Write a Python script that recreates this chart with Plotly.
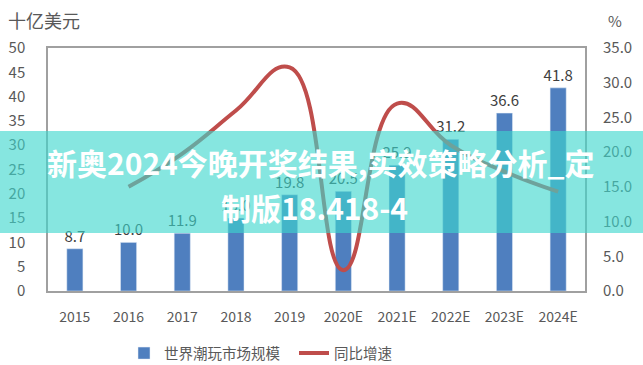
import plotly.graph_objects as go

years = ["2015", "2016", "2017", "2018", "2019", "2020E", "2021E", "2022E", "2023E", "2024E"]
market_size = [8.7, 10.0, 11.9, 15.0, 19.8, 20.5, 25.9, 31.2, 36.6, 41.8]
growth_years = ["2016", "2017", "2018", "2019", "2020E", "2021E", "2022E", "2023E", "2024E"]
growth = [15.0, 19.8, 26.0, 32.2, 3.0, 27.0, 21.0, 17.2, 14.3]

FONT = "Noto Sans CJK SC, Noto Sans, sans-serif"
GRAY = "#595959"

fig = go.Figure()
fig.add_trace(go.Bar(
    x=years, y=market_size, name="世界潮玩市场规模",
    marker=dict(color="#4F7FBF"), width=0.3,
    text=[f"{v:.1f}" for v in market_size], textposition="outside",
    constraintext="none",
    textfont=dict(size=15, color="#404040", family=FONT), cliponaxis=False,
))
fig.add_trace(go.Scatter(
    x=growth_years, y=growth, name="同比增速", yaxis="y2", mode="lines",
    line=dict(color="#BF4D4B", width=4, shape="spline", smoothing=1.3),
))

fig.update_layout(
    width=643, height=365,
    margin=dict(l=48, r=58, t=48, b=74, autoexpand=False),
    paper_bgcolor="white", plot_bgcolor="white",
    font=dict(family=FONT, size=13, color=GRAY),
    xaxis=dict(type="category", showline=True, linecolor="#A0A0A0", linewidth=1.5,
               mirror=True, showgrid=False, ticks="", ticklabelstandoff=12, automargin=False,
               tickfont=dict(size=14, color=GRAY)),
    yaxis=dict(range=[0, 50], dtick=5, showgrid=False, zeroline=False, automargin=False,
               showline=True, linecolor="#A0A0A0", linewidth=1.5, mirror=True,
               ticks="", ticklabelstandoff=18, tickfont=dict(size=15, color=GRAY)),
    yaxis2=dict(range=[0, 35], dtick=5, tickformat=".1f", overlaying="y", side="right",
                showgrid=False, zeroline=False, showline=False, ticks="", automargin=False,
                ticklabelstandoff=17, tickfont=dict(size=15, color=GRAY)),
    legend=dict(orientation="h", x=(124-48)/537, xanchor="left", y=-0.19, yanchor="top",
                font=dict(size=14.5, color=GRAY), itemwidth=30, entrywidth=125),
    showlegend=True,
)

fig.add_annotation(xref="paper", yref="paper", x=-42/537, y=1 + 28/243, xanchor="left",
                   yanchor="middle", text="十亿美元", showarrow=False,
                   font=dict(size=18, color=GRAY, family=FONT))
fig.add_annotation(xref="paper", yref="paper", x=(615-48)/537, y=1 + 27/243, xanchor="center",
                   yanchor="middle", text="%", showarrow=False,
                   font=dict(size=15, color=GRAY, family=FONT))

# overlay banner
fig.add_shape(type="rect", xref="paper", yref="paper", x0=-0.2, x1=1.2,
              y0=(291-233)/243, y1=(291-131)/243, layer="above",
              line=dict(width=0), fillcolor="rgba(60,215,205,0.62)")
fig.add_annotation(xref="paper", yref="paper", x=(321-48)/537, y=(291-162)/243,
                   xanchor="center", yanchor="middle", showarrow=False,
                   text="<b>新奥2024今晚开奖结果,实效策略分析_定</b>",
                   font=dict(size=30, color="white", family=FONT))
fig.add_annotation(xref="paper", yref="paper", x=(314-48)/537, y=(291-207)/243,
                   xanchor="center", yanchor="middle", showarrow=False,
                   text="<b>制版18.418-4</b>",
                   font=dict(size=30, color="white", family=FONT))

fig.write_html("out.html", config={"displayModeBar": False},
               post_script="document.body.style.margin='0';document.body.style.overflow='hidden';")
